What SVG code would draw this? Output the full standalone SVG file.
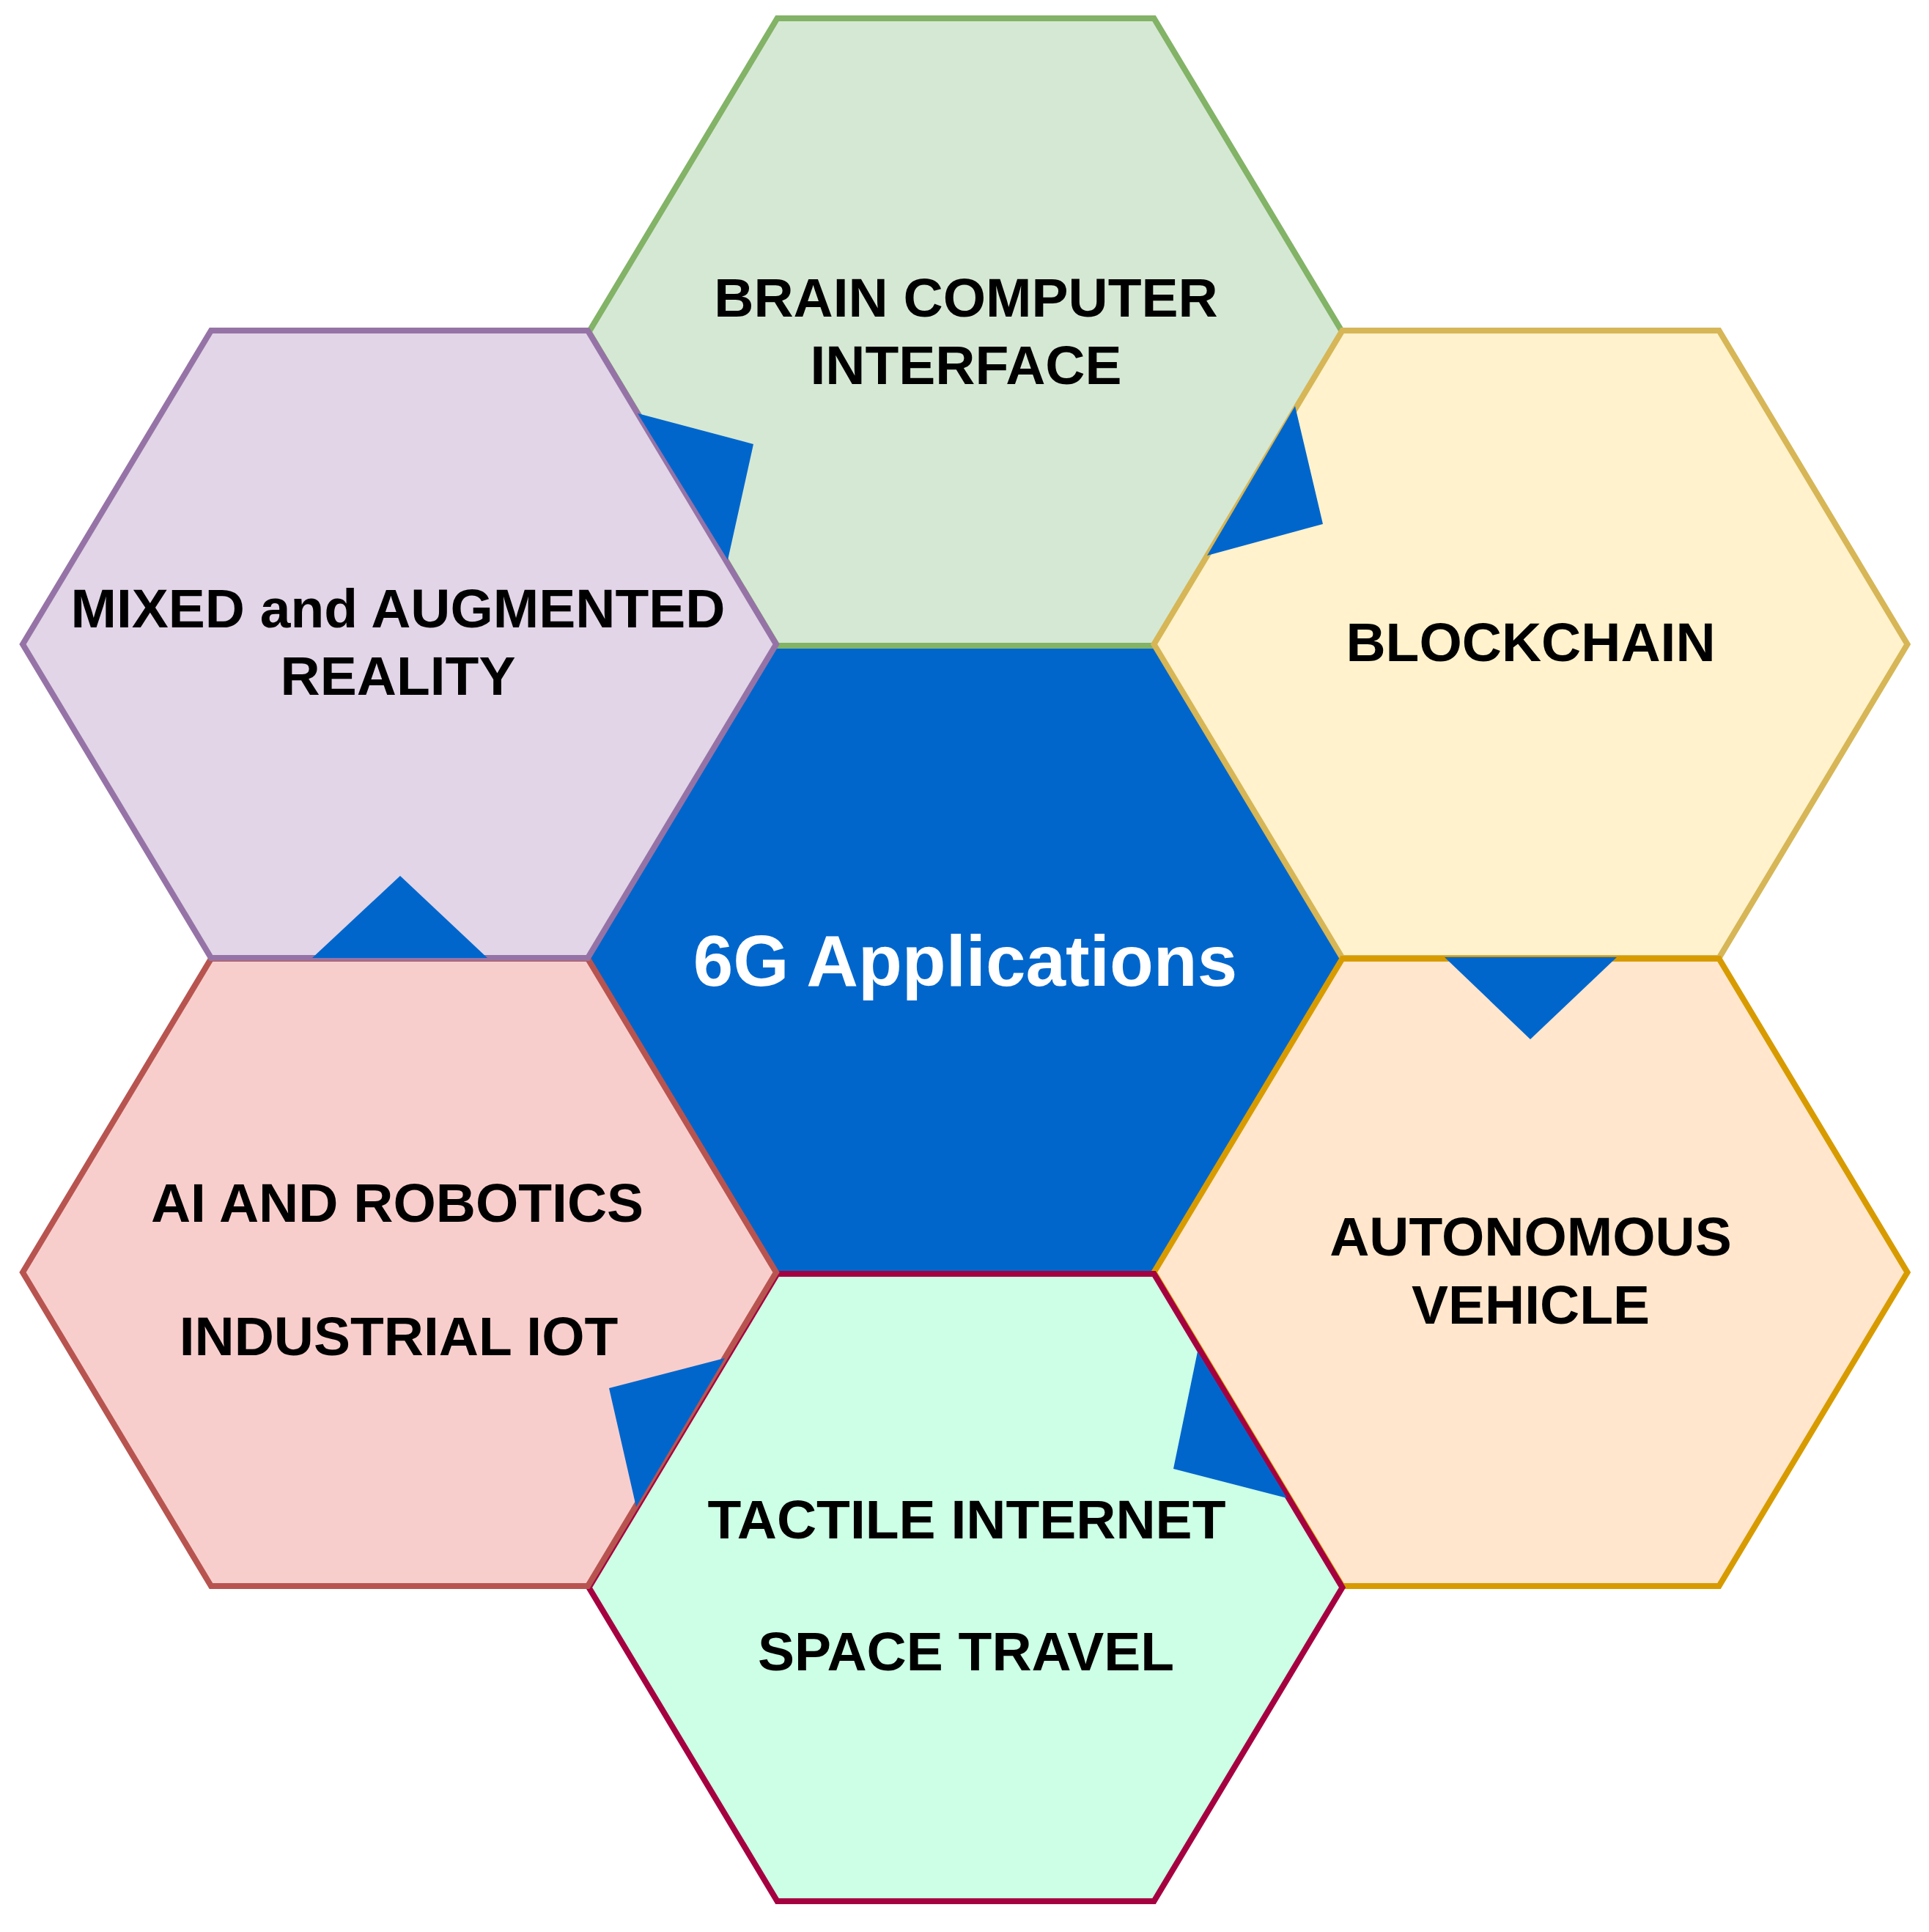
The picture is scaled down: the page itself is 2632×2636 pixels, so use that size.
<svg xmlns="http://www.w3.org/2000/svg" width="2632" height="2636" viewBox="0 0 2632 2636">
<style>
.hex{stroke-width:8;stroke-linejoin:miter}
.lbl{font-family:"Liberation Sans",Arial,sans-serif;font-weight:bold;font-size:75px;fill:#000000;text-anchor:middle}
.ctr{font-family:"Liberation Sans",Arial,sans-serif;font-weight:bold;font-size:98px;fill:#ffffff;text-anchor:middle}
.tri{fill:#0066CC;stroke:none}
</style>
<rect x="0" y="0" width="2632" height="2636" fill="#ffffff"/>
<g id="center">
<polygon class="hex" fill="#0066CC" stroke="#0066CC" points="1060.5,880 1574.5,880 1831.5,1308 1574.5,1736 1060.5,1736 803.5,1308"/>
</g>
<g id="brain-computer-interface">
<polygon class="hex" fill="#d5e8d4" stroke="#82b366" points="1060.5,25 1574.5,25 1831.5,453 1574.5,881 1060.5,881 803.5,453"/>
<text class="lbl" x="1318" y="432">BRAIN COMPUTER</text>
<text class="lbl" x="1318" y="524">INTERFACE</text>
</g>
<g id="blockchain">
<polygon class="hex" fill="#fff2cc" stroke="#d6b656" points="1831.5,451 2345.5,451 2602.5,879 2345.5,1307 1831.5,1307 1574.5,879"/>
<text class="lbl" x="2088.5" y="902">BLOCKCHAIN</text>
</g>
<g id="autonomous-vehicle">
<polygon class="hex" fill="#ffe6cc" stroke="#d79b00" points="1831.5,1308 2345.5,1308 2602.5,1736 2345.5,2164 1831.5,2164 1574.5,1736"/>
<text class="lbl" x="2088.5" y="1713">AUTONOMOUS</text>
<text class="lbl" x="2088.5" y="1806">VEHICLE</text>
</g>
<g id="tactile-internet">
<polygon class="hex" fill="#ccffe6" stroke="#a50040" points="1060.5,1738 1574.5,1738 1831.5,2166 1574.5,2594 1060.5,2594 803.5,2166"/>
<text class="lbl" x="1319" y="2099">TACTILE INTERNET</text>
<text class="lbl" x="1318" y="2279">SPACE TRAVEL</text>
</g>
<g id="ai-robotics">
<polygon class="hex" fill="#f8cecc" stroke="#b85450" points="288,1308 802,1308 1059,1736 802,2164 288,2164 31,1736"/>
<text class="lbl" x="542" y="1667">AI AND ROBOTICS</text>
<text class="lbl" x="544" y="1849">INDUSTRIAL IOT</text>
</g>
<g id="mixed-augmented-reality">
<polygon class="hex" fill="#e1d5e7" stroke="#9673a6" points="288,451 802,451 1059,879 802,1307 288,1307 31,879"/>
<text class="lbl" x="543" y="856">MIXED and AUGMENTED</text>
<text class="lbl" x="543" y="948">REALITY</text>
</g>
<g id="center-label">
<text class="ctr" x="1317" y="1345">6G Applications</text>
</g>
<g id="connectors">
<polygon class="tri" points="870,564 1028,606 993,764"/>
<polygon class="tri" points="1767,554 1805,715 1647,758"/>
<polygon class="tri" points="1971,1306 2206,1306 2088,1418"/>
<polygon class="tri" points="1634,1844 1601,2004 1756,2044"/>
<polygon class="tri" points="989,1853 831,1894 868,2056"/>
<polygon class="tri" points="426,1307 665,1307 546,1195"/>
</g>
</svg>
